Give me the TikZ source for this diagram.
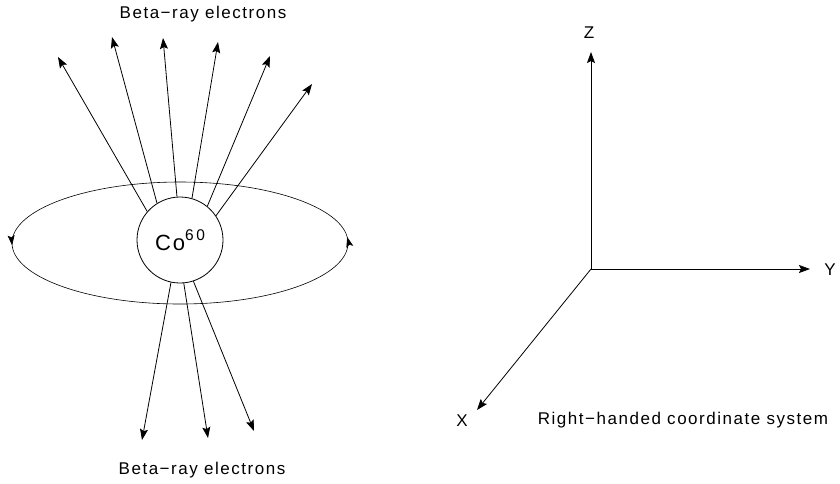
\documentclass[tikz,border=0pt]{standalone}
\usepackage{fontspec}
\newfontfamily\figFont{Liberation Sans}[LetterSpace=9]
\usetikzlibrary{arrows.meta,decorations.markings}
\tikzset{%
  figLabel/.style={font=\figFont\fontsize{17}{20}\selectfont, inner sep=0pt},
  rayArrow/.style={-{Stealth[length=11pt,width=8pt,inset=2pt]}, line width=0.8pt},
  axisArrow/.style={-{Stealth[length=11pt,width=8pt,inset=2pt]}, line width=0.8pt},
  nucleus/.style={circle, draw, line width=0.8pt, minimum size=86pt, inner sep=0pt,
    font=\figFont},
  spinLoop/.style={line width=0.6pt, decoration={markings,
    mark=at position 0.497 with {\arrowreversed{Stealth[length=10pt,width=7pt,inset=2pt]}},
    mark=at position 0.992 with {\arrowreversed{Stealth[length=10pt,width=7pt,inset=2pt]}}},
    postaction={decorate}},
}
\begin{document}
\begin{tikzpicture}[x=1pt,y=-1pt]
  \useasboundingbox (0,0) rectangle (840,483);
  % cobalt nucleus and its spin
  \node[nucleus] (co) at (180,240)
    {\fontsize{22}{24}\selectfont Co\raisebox{10pt}{\fontsize{15.5}{17}\selectfont 6\,0}};
  \draw[spinLoop] (180,243) ellipse [x radius=168, y radius=61];
  % electrons emitted upwards
  \foreach \ang/\tx/\ty [count=\i] in {139/58/57, 122/112/37, 94/163/38,
      74/218/42, 51/270/56, 34/312/84} {
    \coordinate (up\i) at (\tx,\ty);
    \draw[rayArrow] (co.\ang) -- (up\i);
  }
  % electrons emitted downwards
  \foreach \ang/\tx/\ty [count=\i] in {258/142/440, 275/208/438, 288/254/431} {
    \coordinate (down\i) at (\tx,\ty);
    \draw[rayArrow] (co.\ang) -- (down\i);
  }
  \node[figLabel] (betaTop) at (203,14) {Beta−ray electrons};
  \node[figLabel] (betaBottom) at (202,470) {Beta−ray electrons};
  % coordinate axes
  \coordinate (origin) at (591,269);
  \coordinate (zTip) at (591,52);
  \coordinate (yTip) at (810,269);
  \coordinate (xTip) at (477,410);
  \draw[axisArrow] (origin) -- (zTip);
  \draw[axisArrow] (origin) -- (yTip);
  \draw[axisArrow] (origin) -- (xTip);
  \node[figLabel] (zLabel) at (589,33) {Z};
  \node[figLabel] (yLabel) at (830,270) {Y};
  \node[figLabel] (xLabel) at (462,421) {X};
  \node[figLabel] (caption) at (683,420) {Right−handed coordinate system};
\end{tikzpicture}
\end{document}
